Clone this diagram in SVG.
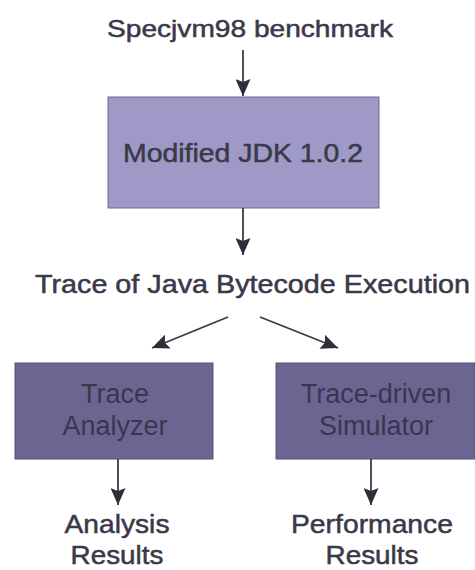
<svg xmlns="http://www.w3.org/2000/svg" width="475" height="570" viewBox="0 0 475 570">
<defs>
<marker id="ah" viewBox="0 0 17 15" refX="17" refY="7.5" markerWidth="17" markerHeight="15" markerUnits="userSpaceOnUse" orient="auto">
<path d="M0,0 L17,7.5 L0,15 L3,7.5 z" fill="#2e2d38"/>
</marker>
<style>
.t{font-family:"Liberation Sans",Arial,sans-serif;fill:#3a3948;stroke:#3a3948;stroke-width:0.5;}
.bt{font-family:"Liberation Sans",Arial,sans-serif;fill:#3b3550;}
.c{stroke:#3a3a44;stroke-width:1.8;fill:none;marker-end:url(#ah);}
</style>
</defs>
<rect width="475" height="570" fill="#ffffff"/>
<g id="source">
<text class="t" x="107" y="37" font-size="24" textLength="286" lengthAdjust="spacingAndGlyphs">Specjvm98 benchmark</text>
</g>
<g id="jdk">
<rect x="108" y="97" width="271" height="111" fill="#9e99c7" stroke="#6f6b8e" stroke-width="1"/>
<text class="t" x="123" y="162" font-size="26" textLength="240" lengthAdjust="spacingAndGlyphs">Modified JDK 1.0.2</text>
</g>
<g id="trace">
<text class="t" x="35" y="293" font-size="25" textLength="435" lengthAdjust="spacingAndGlyphs">Trace of  Java Bytecode Execution</text>
</g>
<g id="analyzer">
<rect x="15" y="363" width="198" height="96" fill="#6c6592" stroke="#57517a" stroke-width="1"/>
<text class="bt" x="115" y="403" font-size="27" text-anchor="middle">Trace</text>
<text class="bt" x="115" y="435" font-size="27" text-anchor="middle">Analyzer</text>
</g>
<g id="simulator">
<rect x="276" y="363" width="199" height="96" fill="#6c6592" stroke="#57517a" stroke-width="1"/>
<text class="bt" x="376" y="403" font-size="27" text-anchor="middle">Trace-driven</text>
<text class="bt" x="376" y="435" font-size="27" text-anchor="middle">Simulator</text>
</g>
<g id="analysis-results">
<text class="t" x="117" y="533" font-size="26" text-anchor="middle" textLength="105" lengthAdjust="spacingAndGlyphs">Analysis</text>
<text class="t" x="117" y="564" font-size="25" text-anchor="middle" textLength="93" lengthAdjust="spacingAndGlyphs">Results</text>
</g>
<g id="performance-results">
<text class="t" x="372" y="533" font-size="26" text-anchor="middle" textLength="162" lengthAdjust="spacingAndGlyphs">Performance</text>
<text class="t" x="372" y="564" font-size="25" text-anchor="middle" textLength="93" lengthAdjust="spacingAndGlyphs">Results</text>
</g>
<g id="connectors">
<line class="c" x1="243" y1="50" x2="243" y2="96"/>
<line class="c" x1="243" y1="208" x2="243" y2="255"/>
<line class="c" x1="228" y1="317" x2="152" y2="348"/>
<line class="c" x1="260" y1="317" x2="338" y2="348"/>
<line class="c" x1="118" y1="459" x2="118" y2="505"/>
<line class="c" x1="371" y1="459" x2="371" y2="505"/>
</g>
</svg>
